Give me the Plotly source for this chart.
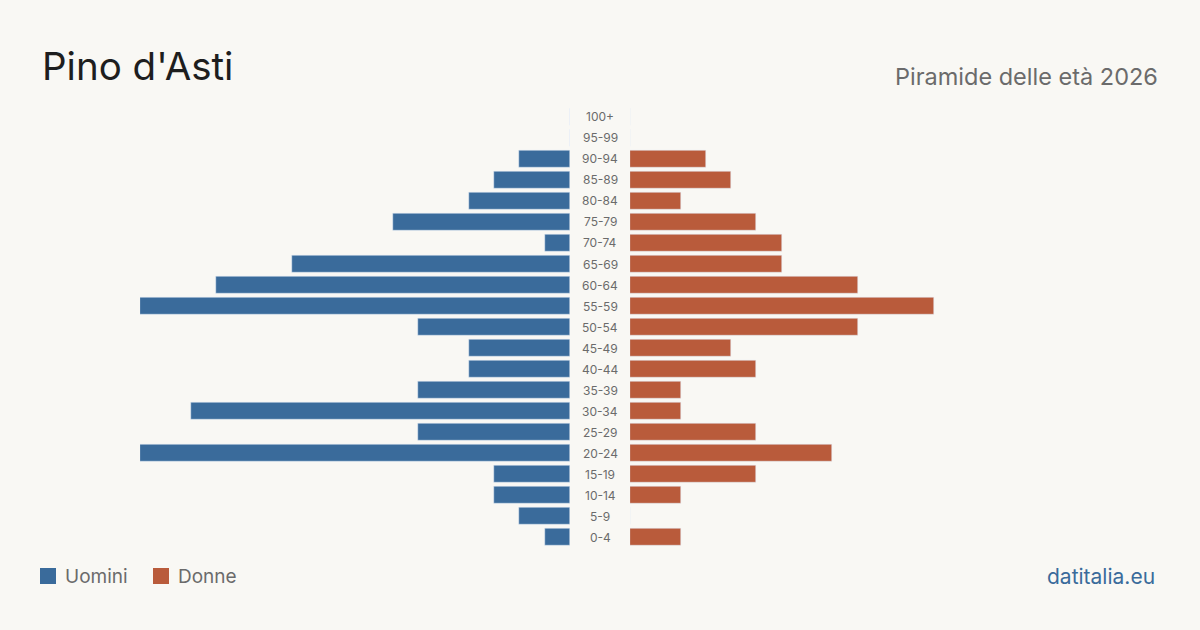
import plotly.graph_objects as go

ages = ["0-4", "5-9", "10-14", "15-19", "20-24", "25-29", "30-34", "35-39", "40-44", "45-49",
        "50-54", "55-59", "60-64", "65-69", "70-74", "75-79", "80-84", "85-89", "90-94", "95-99", "100+"]
men = [1, 2, 3, 3, 17, 6, 15, 6, 4, 4, 6, 17, 14, 11, 1, 7, 4, 3, 2, 0, 0]
women = [2, 0, 2, 5, 8, 5, 2, 2, 5, 4, 9, 12, 9, 6, 6, 5, 2, 4, 3, 0, 0]

BLUE = "#3a6b9b"
ORANGE = "#b95b3b"
BG = "#f9f8f4"
GRAY = "#6b6b6b"
FONT = "Inter"

W, H = 1200, 630
xmax = max(max(men), max(women))

fig = go.Figure()
fig.add_trace(go.Bar(y=ages, x=men, orientation="h", marker_color=BLUE, width=0.8,
                     xaxis="x", yaxis="y", name="Uomini", hoverinfo="x+y"))
fig.add_trace(go.Bar(y=ages, x=women, orientation="h", marker_color=ORANGE, width=0.8,
                     xaxis="x2", yaxis="y", name="Donne", hoverinfo="x+y"))

y0 = (H - 547.5) / H
y1 = (H - 106.5) / H

fig.update_layout(
    width=W, height=H,
    margin=dict(l=0, r=0, t=0, b=0),
    paper_bgcolor=BG, plot_bgcolor=BG,
    showlegend=False,
    bargap=0,
    font=dict(family=FONT, color=GRAY),
    xaxis=dict(domain=[140 / W, 570 / W], range=[xmax, 0], visible=False, fixedrange=True),
    xaxis2=dict(domain=[630 / W, 1060 / W], range=[0, xmax], visible=False, fixedrange=True),
    yaxis=dict(domain=[y0, y1], categoryorder="array", categoryarray=ages,
               range=[-0.5, len(ages) - 0.5], visible=False, fixedrange=True),
)

for a in ages:
    fig.add_annotation(x=600 / W, xref="paper", y=a, yref="y", text=a, showarrow=False,
                       xanchor="center", yanchor="middle", font=dict(size=12, color=GRAY, family=FONT))

fig.add_annotation(x=40 / W, y=(H - 66) / H, xref="paper", yref="paper", text="Pino d'Asti",
                   showarrow=False, xanchor="left", yanchor="middle",
                   font=dict(size=38.5, color="#1e1e1e", family=FONT))
fig.add_annotation(x=1160 / W, y=(H - 76) / H, xref="paper", yref="paper", text="Piramide delle età 2026",
                   showarrow=False, xanchor="right", yanchor="middle",
                   font=dict(size=23.5, color=GRAY, family=FONT))

# legend
fig.add_shape(type="rect", xref="paper", yref="paper", x0=40 / W, x1=56 / W,
              y0=(H - 584) / H, y1=(H - 568) / H, fillcolor=BLUE, line_width=0)
fig.add_shape(type="rect", xref="paper", yref="paper", x0=153 / W, x1=169 / W,
              y0=(H - 584) / H, y1=(H - 568) / H, fillcolor=ORANGE, line_width=0)
fig.add_annotation(x=63 / W, y=(H - 576) / H, xref="paper", yref="paper", text="Uomini",
                   showarrow=False, xanchor="left", yanchor="middle", font=dict(size=19, color=GRAY, family=FONT))
fig.add_annotation(x=176 / W, y=(H - 576) / H, xref="paper", yref="paper", text="Donne",
                   showarrow=False, xanchor="left", yanchor="middle", font=dict(size=19, color=GRAY, family=FONT))
fig.add_annotation(x=1157 / W, y=(H - 576) / H, xref="paper", yref="paper", text="datitalia.eu",
                   showarrow=False, xanchor="right", yanchor="middle", font=dict(size=21, color=BLUE, family=FONT))

fig.write_html("out.html", config={"displayModeBar": False})
